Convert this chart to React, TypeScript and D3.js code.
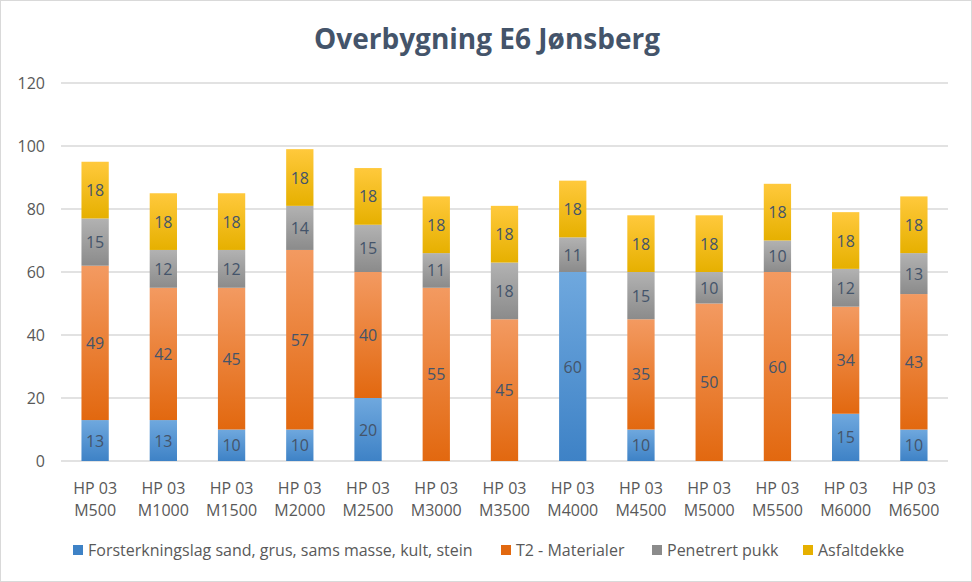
import React, { useEffect, useRef } from "react";
import * as d3 from "d3";

const categories = ["M500","M1000","M1500","M2000","M2500","M3000","M3500","M4000","M4500","M5000","M5500","M6000","M6500"];
const forsterkning = [13,13,10,10,20,0,0,60,10,0,0,15,10];
const t2 = [49,42,45,57,40,55,45,0,35,50,60,34,43];
const pukk = [15,12,12,14,15,11,18,11,15,10,10,12,13];
const asfalt = [18,18,18,18,18,18,18,18,18,18,18,18,18];
const seriesNames = ["Forsterkningslag sand, grus, sams masse, kult, stein","T2 - Materialer","Penetrert pukk","Asfaltdekke"];
const yTicks = [0,20,40,60,80,100,120];

const W = 972, H = 582;
const gradients = [
  ["#6fa8de", "#3e82c6"],
  ["#f39a61", "#e2680f"],
  ["#b2b2b2", "#8b8b8b"],
  ["#ffc93c", "#e6b000"],
];

export default function App() {
  const ref = useRef<SVGSVGElement>(null);
  useEffect(() => {
    const svg = d3.select(ref.current);
    svg.selectAll("*").remove();
    const font = "'Open Sans', 'Liberation Sans', sans-serif";
    const defs = svg.append("defs");
    gradients.forEach((g, i) => {
      const lg = defs.append("linearGradient").attr("id", "g" + i).attr("x1", 0).attr("y1", 0).attr("x2", 0).attr("y2", 1);
      lg.append("stop").attr("offset", "0%").attr("stop-color", g[0]);
      lg.append("stop").attr("offset", "100%").attr("stop-color", g[1]);
    });
    svg.append("rect").attr("x", 0.5).attr("y", 0.5).attr("width", W - 1).attr("height", H - 1).attr("fill", "#fff").attr("stroke", "#d9d9d9");

    svg.append("text").attr("x", W / 2 + 1).attr("y", 49).attr("text-anchor", "middle")
      .attr("font-family", font).attr("font-weight", "bold").attr("font-size", 28).attr("fill", "#44546a")
      .text("Overbygning E6 Jønsberg");

    const left = 61, right = 948, top = 83, bottom = 461;
    const x = d3.scaleBand().domain(categories).range([left, right]).paddingInner(0.6).paddingOuter(0.3);
    const y = d3.scaleLinear().domain([0, 120]).range([bottom, top]);

    const grid = svg.append("g");
    yTicks.forEach(t => {
      grid.append("line").attr("x1", left).attr("x2", right).attr("y1", y(t)).attr("y2", y(t))
        .attr("stroke", "#d9d9d9").attr("stroke-width", 1.3);
      grid.append("text").attr("x", 45).attr("y", y(t) + 6).attr("text-anchor", "end")
        .attr("font-family", font).attr("font-size", 16).attr("fill", "#595959").text(t);
    });

    const data = categories.map((c, i) => ({ c, v: [forsterkning[i], t2[i], pukk[i], asfalt[i]] }));
    const g = svg.append("g");
    data.forEach(d => {
      let acc = 0;
      d.v.forEach((v, si) => {
        if (v <= 0) return;
        const y0 = y(acc), y1 = y(acc + v);
        g.append("rect").attr("x", x(d.c)!).attr("width", x.bandwidth()).attr("y", y1).attr("height", y0 - y1)
          .attr("fill", `url(#g${si})`);
        g.append("text").attr("x", x(d.c)! + x.bandwidth() / 2).attr("y", (y0 + y1) / 2 + 6)
          .attr("text-anchor", "middle").attr("font-family", font).attr("font-size", 16).attr("fill", "#44546a").text(v);
        acc += v;
      });
    });

    categories.forEach(c => {
      const cx = x(c)! + x.bandwidth() / 2;
      const t = svg.append("text").attr("text-anchor", "middle").attr("font-family", font).attr("font-size", 16).attr("fill", "#595959");
      t.append("tspan").attr("x", cx).attr("y", 494).text("HP 03");
      t.append("tspan").attr("x", cx).attr("y", 516).text(c);
    });

    const legendX = [73, 501, 652, 803];
    seriesNames.forEach((n, i) => {
      svg.append("rect").attr("x", legendX[i]).attr("y", 545).attr("width", 10).attr("height", 10).attr("fill", gradients[i][1]);
      svg.append("text").attr("x", legendX[i] + 15).attr("y", 556).attr("font-family", font).attr("font-size", 16).attr("fill", "#595959").text(n);
    });
  }, []);
  return (
    <div style={{ position: "absolute", left: 0, top: 0 }}>
      <svg ref={ref} width={W} height={H} />
    </div>
  );
}
